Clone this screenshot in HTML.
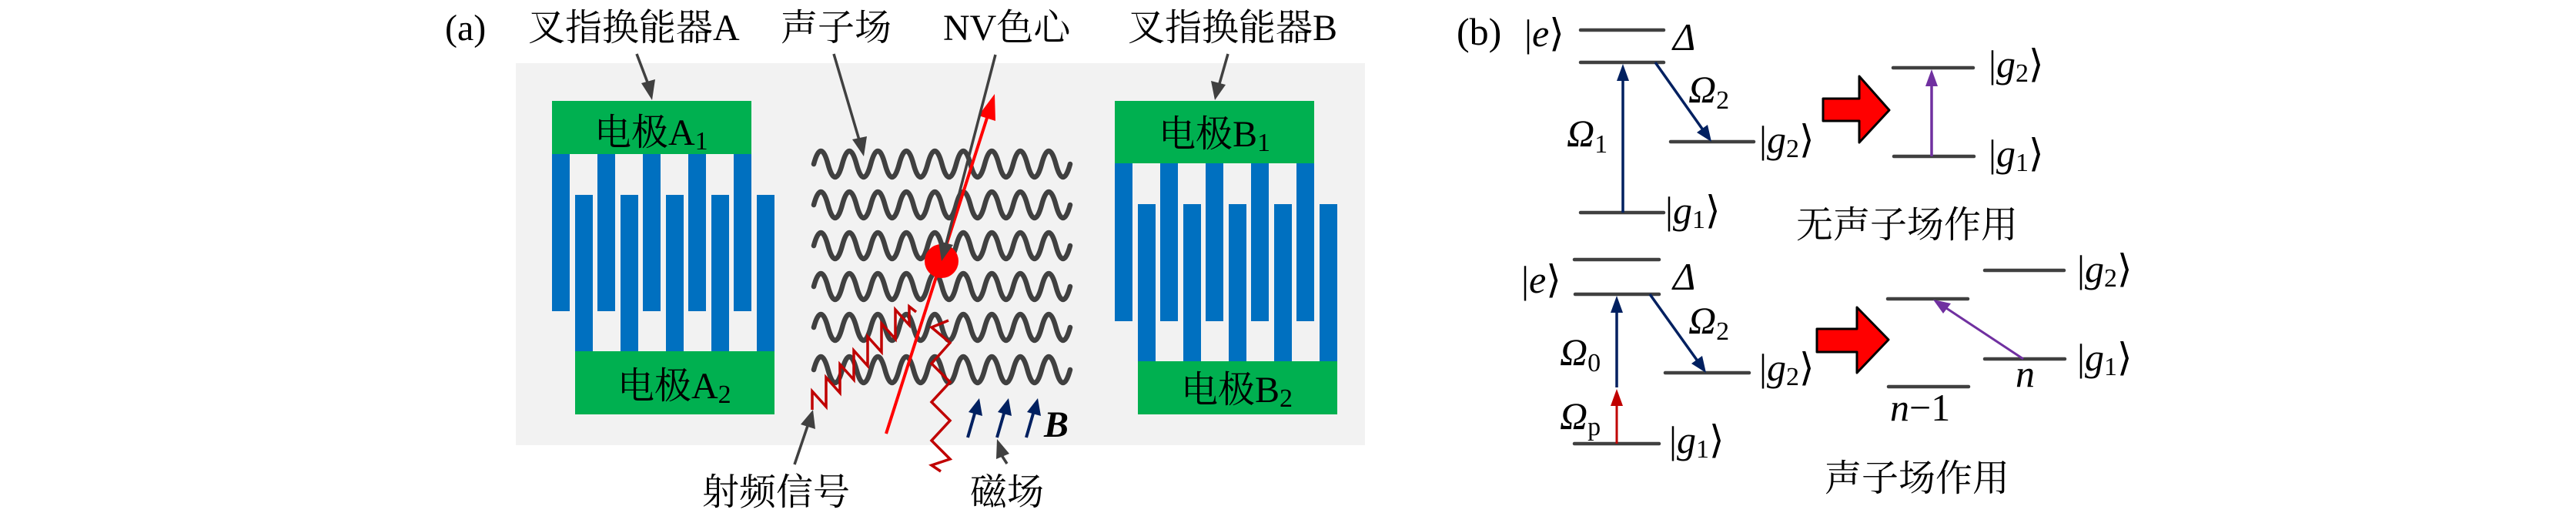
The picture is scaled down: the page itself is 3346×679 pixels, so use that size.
<!DOCTYPE html>
<html><head><meta charset="utf-8"><style>
html,body{margin:0;padding:0;background:#fff;}
svg{display:block;}
</style></head><body>
<svg width="3346" height="679" viewBox="0 0 3346 679" xmlns="http://www.w3.org/2000/svg">
<g font-family="'Liberation Serif','Noto Serif CJK SC','Noto Sans CJK SC',serif" fill="#000">
<!-- Panel a -->
<text x="578" y="52" font-size="48">(a)</text>
<rect x="670" y="82" width="1103" height="496" fill="#f2f2f2"/>
<text x="686" y="52" font-size="48">叉指换能器A</text>
<text x="1014" y="52" font-size="48">声子场</text>
<text x="1225" y="52" font-size="48">NV色心</text>
<text x="1465" y="52" font-size="48">叉指换能器B</text>

<g fill="#0070c0">
<rect x="717" y="200" width="23" height="204"/><rect x="776" y="200" width="23" height="204"/><rect x="835" y="200" width="23" height="204"/><rect x="894" y="200" width="23" height="204"/><rect x="953" y="200" width="23" height="204"/>
<rect x="747" y="253" width="23" height="203"/><rect x="806" y="253" width="23" height="203"/><rect x="865" y="253" width="23" height="203"/><rect x="924" y="253" width="23" height="203"/><rect x="983" y="253" width="23" height="203"/>
</g>
<rect x="717" y="131" width="259" height="69" fill="#00b050"/>
<rect x="747" y="456" width="259" height="82" fill="#00b050"/>
<text x="772" y="188" font-size="48">电极A<tspan font-size="34" dy="6">1</tspan></text>
<text x="802" y="517" font-size="48">电极A<tspan font-size="34" dy="6">2</tspan></text>

<g fill="#0070c0">
<rect x="1448" y="212" width="23" height="205"/><rect x="1507" y="212" width="23" height="205"/><rect x="1566" y="212" width="23" height="205"/><rect x="1625" y="212" width="23" height="205"/><rect x="1684" y="212" width="23" height="205"/>
<rect x="1478" y="265" width="23" height="204"/><rect x="1537" y="265" width="23" height="204"/><rect x="1596" y="265" width="23" height="204"/><rect x="1655" y="265" width="23" height="204"/><rect x="1714" y="265" width="23" height="204"/>
</g>
<rect x="1448" y="131" width="259" height="81" fill="#00b050"/>
<rect x="1478" y="469" width="259" height="69" fill="#00b050"/>
<text x="1505" y="190" font-size="48">电极B<tspan font-size="34" dy="6">1</tspan></text>
<text x="1534" y="522" font-size="48">电极B<tspan font-size="34" dy="6">2</tspan></text>

<g fill="none" stroke="#404040" stroke-width="6.5" stroke-linecap="round">
<path id="w" d="M1057,213 q9.25,-34 18.5,0 t18.5,0 t18.5,0 t18.5,0 t18.5,0 t18.5,0 t18.5,0 t18.5,0 t18.5,0 t18.5,0 t18.5,0 t18.5,0 t18.5,0 t18.5,0 t18.5,0 t18.5,0 t18.5,0 t18.5,0"/>
<use href="#w" y="53"/><use href="#w" y="106"/><use href="#w" y="159"/><use href="#w" y="212"/><use href="#w" y="267"/>
</g>

<line x1="1151" y1="563" x2="1283" y2="150" stroke="#ff0000" stroke-width="4"/>
<polygon points="1292,122 1293,157 1271,150" fill="#ff0000"/>
<polyline fill="none" stroke="#c00000" stroke-width="3.5" stroke-linejoin="miter" points="1055,532 1055,508 1073,528 1073,490 1091,510 1091,473 1109,493 1109,455 1127,475 1127,437 1145,457 1145,420 1163,440 1163,402 1181,422 1181,398 1190,405"/>
<polyline fill="none" stroke="#c00000" stroke-width="3.5" points="1232,416 1210,425 1234,445 1210,472 1234,496 1210,522 1234,546 1210,572 1234,596 1210,604 1222,612"/>
<circle cx="1223" cy="339" r="22" fill="#ff0000"/>
<g stroke="#404040" stroke-width="3.5" fill="none">
<line x1="827" y1="70" x2="843" y2="112"/>
<line x1="1083" y1="70" x2="1117" y2="185"/>
<line x1="1293" y1="71" x2="1228" y2="320"/>
<line x1="1595" y1="70" x2="1583" y2="112"/>
<line x1="1032" y1="603" x2="1050" y2="550"/>
<line x1="1308" y1="602" x2="1299" y2="588"/>
</g>
<g fill="#404040">
<polygon points="847,130 833,108 851,103"/>
<polygon points="1122,203 1107,181 1126,177"/>
<polygon points="1223,339 1219,313 1238,318"/>
<polygon points="1578,130 1573,105 1592,110"/>
<polygon points="1056,532 1059,557 1040,551"/>
<polygon points="1295,570 1311,589 1294,596"/>
</g>
<g stroke="#002060" stroke-width="4">
<line x1="1257" y1="568" x2="1268" y2="530"/>
<line x1="1295" y1="568" x2="1306" y2="530"/>
<line x1="1333" y1="568" x2="1344" y2="530"/>
</g>
<g fill="#002060">
<polygon points="1272,517 1276,540 1258,535"/>
<polygon points="1310,517 1314,540 1296,535"/>
<polygon points="1348,517 1352,540 1334,535"/>
</g>
<text x="1356" y="567" font-size="48" font-weight="bold" font-style="italic">B</text>
<text x="912" y="655" font-size="48">射频信号</text>
<text x="1260" y="655" font-size="48">磁场</text>

<!-- Panel b -->
<text x="1892" y="58" font-size="50">(b)</text>
<g stroke="#404040" stroke-width="4.5" stroke-linecap="round">
<line x1="2053" y1="39" x2="2161" y2="39"/>
<line x1="2053" y1="81" x2="2161" y2="81"/>
<line x1="2053" y1="276" x2="2161" y2="276"/>
<line x1="2170" y1="184" x2="2278" y2="184"/>
<line x1="2459" y1="88" x2="2563" y2="88"/>
<line x1="2460" y1="203" x2="2564" y2="203"/>
<line x1="2045" y1="337" x2="2155" y2="337"/>
<line x1="2046" y1="382" x2="2155" y2="382"/>
<line x1="2163" y1="484" x2="2272" y2="484"/>
<line x1="2045" y1="576" x2="2155" y2="576"/>
<line x1="2452" y1="388" x2="2556" y2="388"/>
<line x1="2453" y1="502" x2="2557" y2="502"/>
<line x1="2578" y1="351" x2="2681" y2="351"/>
<line x1="2578" y1="466" x2="2682" y2="466"/>
</g>
<g stroke="#002060" stroke-width="3.5">
<line x1="2108" y1="276" x2="2108" y2="100"/>
<line x1="2150" y1="81" x2="2213" y2="170"/>
<line x1="2100" y1="503" x2="2100" y2="400"/>
<line x1="2143" y1="382" x2="2206" y2="470"/>
</g>
<g fill="#002060">
<polygon points="2108,83 2100,105 2116,105"/>
<polygon points="2223,184 2204,172 2218,162"/>
<polygon points="2100,384 2092,406 2108,406"/>
<polygon points="2216,484 2197,472 2211,462"/>
</g>
<line x1="2100" y1="576" x2="2100" y2="522" stroke="#c00000" stroke-width="3"/>
<polygon points="2100,505 2092,527 2108,527" fill="#c00000"/>
<line x1="2509" y1="203" x2="2509" y2="108" stroke="#7030a0" stroke-width="3.5"/>
<polygon points="2509,90 2501,112 2517,112" fill="#7030a0"/>
<line x1="2628" y1="466" x2="2525" y2="398" stroke="#7030a0" stroke-width="3"/>
<polygon points="2511,389 2534,394 2524,407" fill="#7030a0"/>
<polygon points="2368,128 2415,128 2415,99 2454,143 2415,185 2415,157 2368,157" fill="#ff0000" stroke="#000" stroke-width="3" stroke-linejoin="round"/>
<polygon points="2360,427 2412,427 2412,399 2453,441 2412,484 2412,457 2360,457" fill="#ff0000" stroke="#000" stroke-width="3" stroke-linejoin="round"/>

<g font-size="50" font-family="'Liberation Serif','DejaVu Serif',serif">
<text x="1980" y="60">|<tspan font-style="italic">e</tspan>⟩</text>
<text x="2173" y="65" font-style="italic">Δ</text>
<text x="2193" y="133" font-style="italic">Ω<tspan font-size="34" font-style="normal" dy="8">2</tspan></text>
<text x="2035" y="190" font-style="italic">Ω<tspan font-size="34" font-style="normal" dy="8">1</tspan></text>
<text x="2163" y="290">|<tspan font-style="italic">g</tspan><tspan font-size="34" dy="6">1</tspan><tspan dy="-6">⟩</tspan></text>
<text x="2285" y="198">|<tspan font-style="italic">g</tspan><tspan font-size="34" dy="6">2</tspan><tspan dy="-6">⟩</tspan></text>
<text x="2583" y="100">|<tspan font-style="italic">g</tspan><tspan font-size="34" dy="6">2</tspan><tspan dy="-6">⟩</tspan></text>
<text x="2583" y="216">|<tspan font-style="italic">g</tspan><tspan font-size="34" dy="6">1</tspan><tspan dy="-6">⟩</tspan></text>
<text x="1976" y="380">|<tspan font-style="italic">e</tspan>⟩</text>
<text x="2173" y="376" font-style="italic">Δ</text>
<text x="2193" y="433" font-style="italic">Ω<tspan font-size="34" font-style="normal" dy="8">2</tspan></text>
<text x="2026" y="474" font-style="italic">Ω<tspan font-size="34" font-style="normal" dy="8">0</tspan></text>
<text x="2026" y="557" font-style="italic">Ω<tspan font-size="34" font-style="normal" dy="8">p</tspan></text>
<text x="2168" y="588">|<tspan font-style="italic">g</tspan><tspan font-size="34" dy="6">1</tspan><tspan dy="-6">⟩</tspan></text>
<text x="2285" y="494">|<tspan font-style="italic">g</tspan><tspan font-size="34" dy="6">2</tspan><tspan dy="-6">⟩</tspan></text>
<text x="2698" y="366">|<tspan font-style="italic">g</tspan><tspan font-size="34" dy="6">2</tspan><tspan dy="-6">⟩</tspan></text>
<text x="2698" y="481">|<tspan font-style="italic">g</tspan><tspan font-size="34" dy="6">1</tspan><tspan dy="-6">⟩</tspan></text>
<text x="2618" y="502" font-style="italic">n</text>
<text x="2455" y="546"><tspan font-style="italic">n</tspan>−1</text>
</g>
<text x="2333" y="308" font-size="48">无声子场作用</text>
<text x="2370" y="637" font-size="48">声子场作用</text>
</g>
</svg>
</body></html>
